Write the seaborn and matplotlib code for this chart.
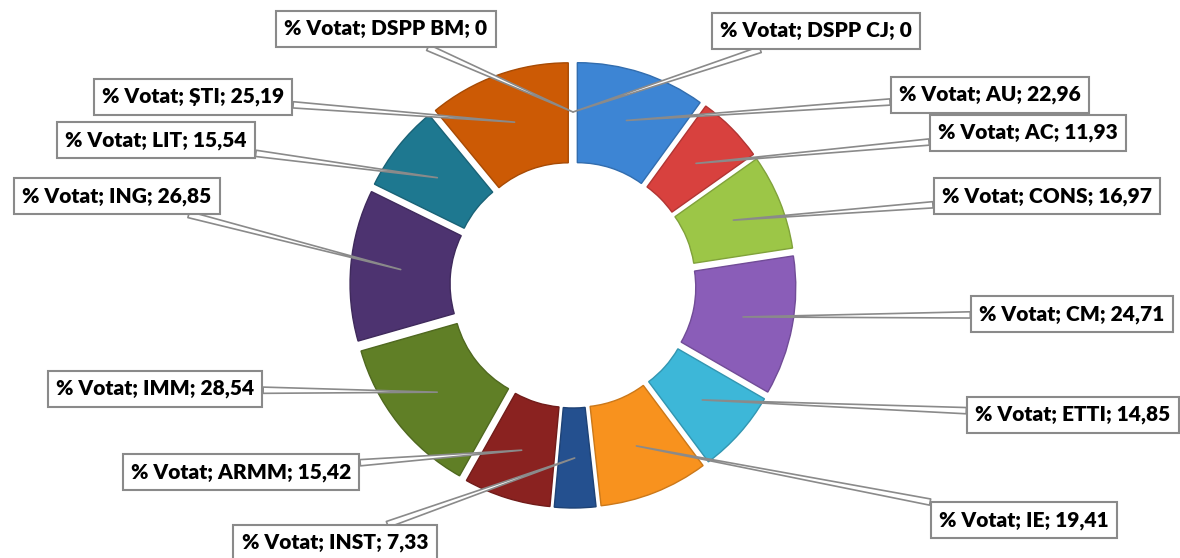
import numpy as np
import matplotlib
matplotlib.use("Agg")
from matplotlib import pyplot as plt
import seaborn as sns

# slices, clockwise from the top
faculties = ["DSPP CJ", "AU", "AC", "CONS", "CM", "ETTI", "IE", "INST",
             "ARMM", "IMM", "ING", "LIT", "ȘTI", "DSPP BM"]
votes = [0, 22.96, 11.93, 16.97, 24.71, 14.85, 19.41, 7.33,
         15.42, 28.54, 26.85, 15.54, 25.19, 0]
colors = ["#3D85D4", "#3D85D4", "#D8413E", "#9CC647", "#8A5DB8", "#3DB7D8",
          "#F8921E", "#24508F", "#8A2220", "#607F26", "#4D3370", "#1E7890",
          "#CC5A05", "#CC5A05"]

# label box centres, in image pixels (x, y from top)
label_pos = [(816, 31), (990, 95), (1028, 133), (1047, 196), (1072, 314),
             (1073, 415), (1024, 520), (335, 543), (241, 472), (155, 389),
             (117, 196), (156, 140), (193, 97), (386, 29)]

W, H = 1180, 558
sns.set_theme(style="white")
plt.rcParams['font.family'] = ['Lato', 'DejaVu Sans']

fig = plt.figure(figsize=(W / 100, H / 100), dpi=100)
ax = fig.add_axes([0, 0, 1, 1])

R = 209
ring = 100
cx, cy = 573, H - 285
palette = sns.color_palette(colors)
edge = [tuple(c * 0.82 for c in col) for col in palette]

wedges, _ = ax.pie(votes, colors=palette, startangle=90, counterclock=False,
                   radius=R, center=(cx, cy), explode=[14] * len(votes),
                   wedgeprops=dict(width=ring, linewidth=1.0))
for w, ec, val in zip(wedges, edge, votes):
    w.set_edgecolor(ec)
    if val == 0:
        w.set_linewidth(0)

ax.set_xlim(0, W)
ax.set_ylim(0, H)
ax.set_aspect('equal')
ax.axis('off')

for w, name, val, (lx, ly) in zip(wedges, faculties, votes, label_pos):
    mid = np.deg2rad((w.theta1 + w.theta2) / 2)
    rr = w.r - w.width / 2
    px = w.center[0] + rr * np.cos(mid)
    py = w.center[1] + rr * np.sin(mid)
    txt = f"% Votat; {name}; {val:.2f}".replace(".", ",") if val else f"% Votat; {name}; 0"
    ax.annotate(txt, xy=(px, py), xytext=(lx, H - ly),
                ha='center', va='center', fontsize=15, fontweight='heavy',
                color='black',
                bbox=dict(boxstyle='square,pad=0.4', fc='white', ec='#8a8a8a', lw=1.5),
                arrowprops=dict(arrowstyle='wedge,tail_width=0.3,shrink_factor=0.5',
                                fc='white', ec='#8a8a8a', lw=1.2,
                                shrinkA=0, shrinkB=0))

fig.savefig("out.png", dpi=100, facecolor='white')
